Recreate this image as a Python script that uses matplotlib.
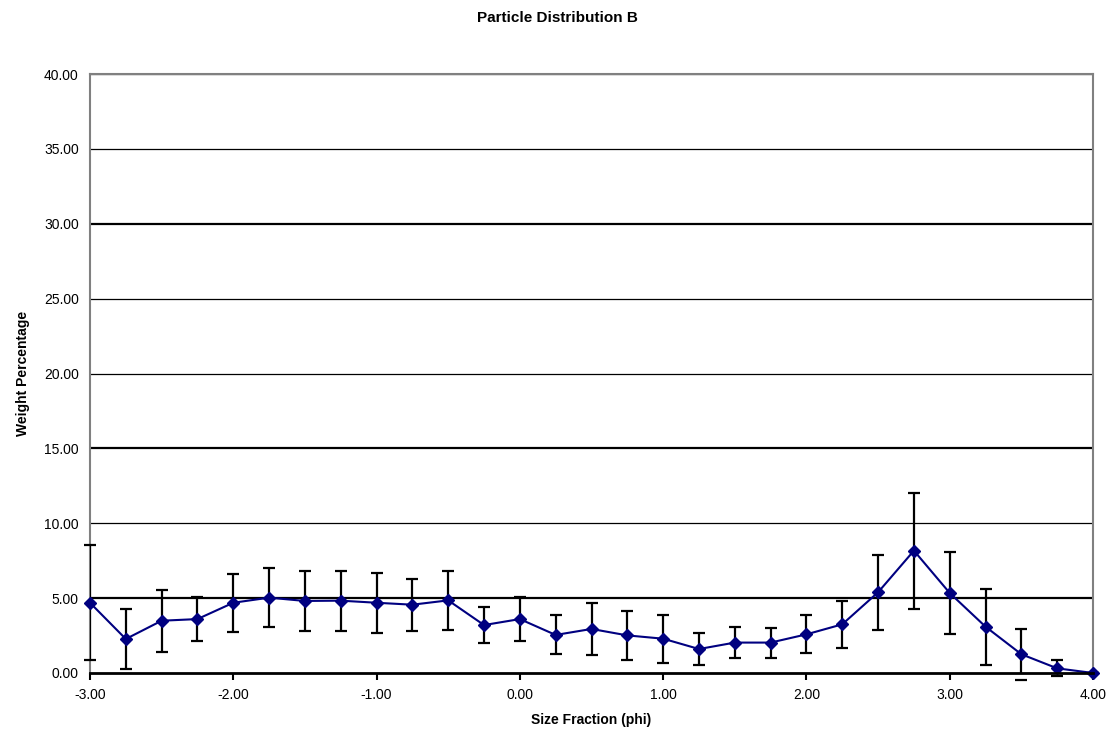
import matplotlib
matplotlib.use("Agg")
import matplotlib.pyplot as plt
import numpy as np

plt.rcParams['font.family'] = ['Liberation Sans', 'DejaVu Sans']

# size fraction (phi) and measured weight percentages
phi = [-3.00, -2.75, -2.50, -2.25, -2.00, -1.75, -1.50, -1.25, -1.00, -0.75,
       -0.50, -0.25, 0.00, 0.25, 0.50, 0.75, 1.00, 1.25, 1.50, 1.75,
       2.00, 2.25, 2.50, 2.75, 3.00, 3.25, 3.50, 3.75, 4.00]
weight = [4.69, 2.27, 3.49, 3.60, 4.69, 5.03, 4.81, 4.83, 4.69, 4.56,
          4.85, 3.20, 3.60, 2.54, 2.94, 2.51, 2.29, 1.60, 2.03, 2.03,
          2.58, 3.25, 5.39, 8.17, 5.34, 3.09, 1.25, 0.31, 0.00]
err = [3.85, 2.00, 2.06, 1.46, 1.94, 1.95, 2.00, 2.00, 2.00, 1.73,
       1.95, 1.20, 1.46, 1.30, 1.73, 1.66, 1.60, 1.05, 1.05, 1.00,
       1.27, 1.55, 2.50, 3.88, 2.73, 2.53, 1.70, 0.53, 0.00]

y_ticks = [0, 5, 10, 15, 20, 25, 30, 35, 40]
thick_grid = [5, 15, 30]

fig = plt.figure(figsize=(11.15, 7.38), dpi=100)
ax = fig.add_axes([0.0807, 0.0881, 0.8996, 0.8116])

for yv in y_ticks[1:]:
    lw = 1.6 if yv in thick_grid else 0.9
    ax.axhline(yv, color='black', lw=lw, zorder=1)

eb = ax.errorbar(phi, weight, yerr=err, color='#000080', lw=1.5,
                 marker='D', markersize=6, ecolor='black', elinewidth=1.6,
                 capsize=4, capthick=1.6, zorder=3)
eb[0].set_clip_on(False)
for c in eb[1]:
    c.set_clip_on(False)

ax.set_xlim(-3, 4)
ax.set_ylim(0, 40)
ax.set_xticks(np.arange(-3, 4.01, 1))
ax.set_xticklabels([f"{v:.2f}" for v in np.arange(-3, 4.01, 1)])
ax.set_yticks(y_ticks)
ax.set_yticklabels([f"{v:.2f}" for v in y_ticks])
ax.tick_params(axis='y', length=0, labelsize=10, pad=8)
ax.tick_params(axis='x', length=5, width=1.5, direction='out', labelsize=10, pad=6)

for side in ['left', 'right', 'top']:
    ax.spines[side].set_color('#808080')
    ax.spines[side].set_linewidth(1.5)
ax.spines['bottom'].set_color('black')
ax.spines['bottom'].set_linewidth(2)
ax.spines['bottom'].set_zorder(4)

ax.set_xlabel('Size Fraction (phi)', fontsize=10, fontweight='bold', labelpad=8)
ax.set_ylabel('Weight Percentage', fontsize=10, fontweight='bold', labelpad=10)
fig.suptitle('Particle Distribution B', fontsize=11, fontweight='bold', y=0.985)

fig.savefig('out.png', dpi=100)
